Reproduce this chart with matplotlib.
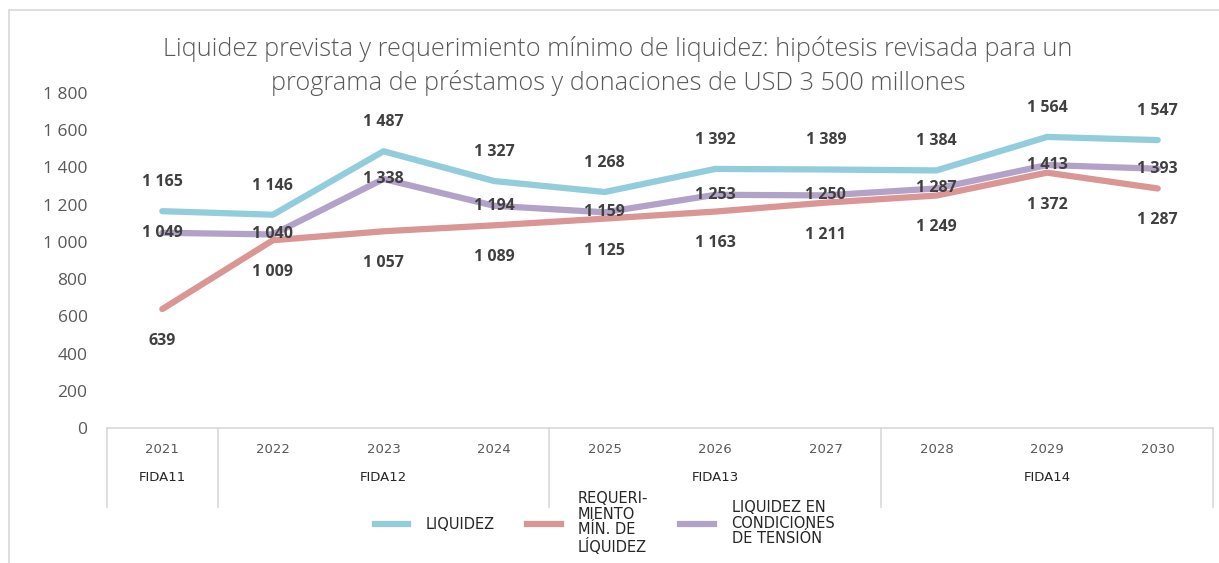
import matplotlib
matplotlib.use("Agg")
from matplotlib import pyplot as plt
from matplotlib.patches import Rectangle
from matplotlib.lines import Line2D
import numpy as np

# chart data
years = ["2021", "2022", "2023", "2024", "2025", "2026", "2027", "2028", "2029", "2030"]
groups = ["FIDA11", "FIDA12", "FIDA13", "FIDA14"]
group_sizes = [1, 3, 3, 3]
liquidez = [1165, 1146, 1487, 1327, 1268, 1392, 1389, 1384, 1564, 1547]
requerimiento = [639, 1009, 1057, 1089, 1125, 1163, 1211, 1249, 1372, 1287]
tension = [1049, 1040, 1338, 1194, 1159, 1253, 1250, 1287, 1413, 1393]
yticks = [0, 200, 400, 600, 800, 1000, 1200, 1400, 1600, 1800]

c_liq = "#92CDDC"
c_req = "#DA9694"
c_ten = "#B3A2C7"
grey = "#595959"
lab_col = "#404040"
line_col = "#D9D9D9"

def fmt(v):
    return f"{v:,}".replace(",", " ")

fig = plt.figure(figsize=(12.19, 5.63), dpi=100)
ax = fig.add_axes([107/1219, 1-428/563, (1213-107)/1219, (428-93)/563])

# outer chart border
fig.patches.append(Rectangle((9/1219, -0.1), 1.2, 1-10/563+0.1, transform=fig.transFigure,
                             fill=False, edgecolor=line_col, lw=1.2))

x = np.arange(len(years))
ax.plot(x, liquidez, color=c_liq, lw=4.5, solid_capstyle="round", zorder=3)
ax.plot(x, requerimiento, color=c_req, lw=4.5, solid_capstyle="round", zorder=3)
ax.plot(x, tension, color=c_ten, lw=4.5, solid_capstyle="round", zorder=3)

lab_kw = dict(ha="center", va="center", fontsize=11.5, fontweight="bold",
              color=lab_col, family="Open Sans", zorder=5)
for i in x:
    ax.annotate(fmt(liquidez[i]), (i, liquidez[i]), xytext=(0, 21), textcoords="offset points", **lab_kw)
    ax.annotate(fmt(requerimiento[i]), (i, requerimiento[i]), xytext=(0, -23), textcoords="offset points", **lab_kw)
    ax.annotate(fmt(tension[i]), (i, tension[i]), xytext=(0, 0), textcoords="offset points", **lab_kw)

ax.set_xlim(-0.5, len(years) - 0.5)
ax.set_ylim(0, 1800)
ax.set_yticks(yticks)
ax.set_yticklabels([fmt(t) for t in yticks], fontsize=12.5, color=grey, family="Open Sans")
ax.tick_params(axis="y", length=0, pad=14)
ax.set_xticks([])
for s in ["top", "right", "left"]:
    ax.spines[s].set_visible(False)
ax.spines["bottom"].set_color(line_col)
ax.spines["bottom"].set_linewidth(1.2)

# category table under the axis
tr = ax.get_xaxis_transform()
for i, y in enumerate(years):
    ax.text(i, -0.063, y, transform=tr, ha="center", va="center", fontsize=9.5,
            color=grey, family="DejaVu Sans")
start = 0
bounds = [-0.5]
for g, n in zip(groups, group_sizes):
    ax.text(start + (n - 1) / 2, -0.149, g, transform=tr, ha="center", va="center",
            fontsize=9.5, color="#262626", family="DejaVu Sans")
    start += n
    bounds.append(start - 0.5)
for b in bounds:
    ax.add_line(Line2D([b, b], [0, -0.236], transform=tr, color=line_col, lw=1.2, clip_on=False))

fig.text(618/1219, 1-66/563,
         "Liquidez prevista y requerimiento mínimo de liquidez: hipótesis revisada para un\n"
         "programa de préstamos y donaciones de USD 3 500 millones",
         ha="center", va="center", fontsize=18.2, fontweight="light", color=grey,
         family="Open Sans", linespacing=1.35)

handles = [Line2D([], [], color=c, lw=4.5) for c in (c_liq, c_req, c_ten)]
labels = ["LIQUIDEZ", "REQUERI-\nMIENTO\nMÍN. DE\nLÍQUIDEZ", "LIQUIDEZ EN\nCONDICIONES\nDE TENSIÓN"]
leg = fig.legend(handles, labels, loc="center", bbox_to_anchor=(605/1219, 1-523/563), ncol=3,
                 frameon=False, prop={"family": "DejaVu Sans", "size": 10.5},
                 handlelength=2.3, columnspacing=2.2, handletextpad=1.2)
for t in leg.get_texts():
    t.set_color("#262626")
    t.set_linespacing(1.05)

fig.savefig("out.png", dpi=100)
